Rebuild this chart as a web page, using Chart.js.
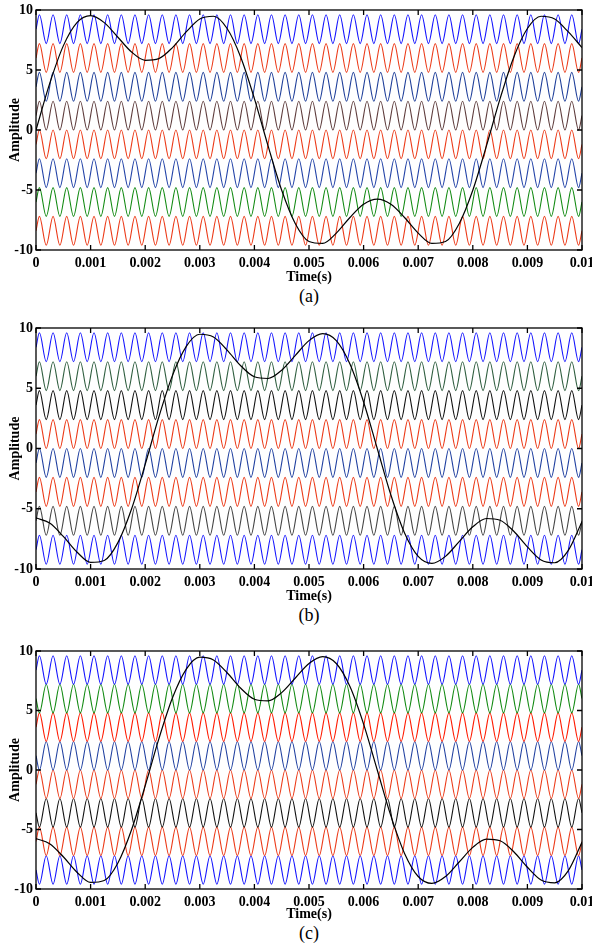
<!DOCTYPE html>
<html>
<head>
<meta charset="utf-8">
<title>Carrier based PWM</title>
<script src="https://cdn.jsdelivr.net/npm/chart.js@4.4.1/dist/chart.umd.min.js"></script>
<style>
body { margin: 0; background: #fff; width: 592px; height: 947px; position: relative; overflow: hidden; }
canvas { position: absolute; left: 0; }
.cap { position: absolute; left: 259px; width: 100px; text-align: center; font-family: "Liberation Serif", serif; font-size: 18px; line-height: 18px; color: #000; }
</style>
</head>
<body>
<canvas id="chartA" width="592" height="286" style="top:0px"></canvas>
<canvas id="chartB" width="592" height="287" style="top:318px"></canvas>
<canvas id="chartC" width="592" height="282" style="top:641px"></canvas>
<div class="cap" style="top:287px">(a)</div>
<div class="cap" style="top:606px">(b)</div>
<div class="cap" style="top:924px">(c)</div>
<script>
// turning points of the carriers (microseconds): 40 cycles in 10 ms
const carrierTurnsUs = [0, 62.5, 187.5, 312.5, 437.5, 562.5, 687.5, 812.5, 937.5, 1062.5,
    1187.5, 1312.5, 1437.5, 1562.5, 1687.5, 1812.5, 1937.5, 2062.5, 2187.5, 2312.5,
    2437.5, 2562.5, 2687.5, 2812.5, 2937.5, 3062.5, 3187.5, 3312.5, 3437.5, 3562.5,
    3687.5, 3812.5, 3937.5, 4062.5, 4187.5, 4312.5, 4437.5, 4562.5, 4687.5, 4812.5,
    4937.5, 5062.5, 5187.5, 5312.5, 5437.5, 5562.5, 5687.5, 5812.5, 5937.5, 6062.5,
    6187.5, 6312.5, 6437.5, 6562.5, 6687.5, 6812.5, 6937.5, 7062.5, 7187.5, 7312.5,
    7437.5, 7562.5, 7687.5, 7812.5, 7937.5, 8062.5, 8187.5, 8312.5, 8437.5, 8562.5,
    8687.5, 8812.5, 8937.5, 9062.5, 9187.5, 9312.5, 9437.5, 9562.5, 9687.5, 9812.5,
    9937.5, 10000];
// carrier band edges, top to bottom
const bandLevels = [9.6, 7.2, 4.8, 2.4, 0, -2.4, -4.8, -7.2, -9.6];

// modulating wave samples (ms)
const modTimesMs = [0, 0.25, 0.5, 0.75, 1, 1.25, 1.5, 1.75, 2, 2.25, 2.5, 2.75, 3, 3.25,
    3.5, 3.75, 4, 4.25, 4.5, 4.75, 5, 5.25, 5.5, 5.75, 6, 6.25, 6.5, 6.75, 7, 7.25,
    7.5, 7.75, 8, 8.25, 8.5, 8.75, 9, 9.25, 9.5, 9.75, 10];
const modA = [0, 3.86, 7.01, 8.95, 9.53, 8.95, 7.73, 6.5, 5.81, 5.95, 6.87, 8.17, 9.25, 9.48,
    8.46, 6.07, 2.62, -1.32, -5.02, -7.81, -9.29, -9.45, -8.59, -7.29, -6.19, -5.76, -6.19,
    -7.29, -8.59, -9.45, -9.29, -7.81, -5.02, -1.32, 2.62, 6.07, 8.46, 9.48, 9.25, 8.17, 6.87];
const modB = [-5.76, -6.19, -7.29, -8.59, -9.45, -9.29, -7.81, -5.02, -1.32, 2.62, 6.07, 8.46,
    9.48, 9.25, 8.17, 6.87, 5.95, 5.81, 6.5, 7.73, 8.95, 9.53, 8.95, 7.01, 3.86, 0, -3.86,
    -7.01, -8.95, -9.53, -8.95, -7.73, -6.5, -5.81, -5.95, -6.87, -8.17, -9.25, -9.48, -8.46, -6.07];

// carrier colours, top band first
const coloursA = ['#1414ff', '#ec3a18', '#1f3f9a', '#5e3c3c', '#ec3a18', '#2444a8', '#128a12', '#ec3a18'];
const coloursB = ['#1414ff', '#2f5e3f', '#111111', '#ec3a18', '#2040a0', '#ec3a18', '#454545', '#1414ff'];
const coloursC = ['#1414ff', '#128a12', '#ff1a00', '#2040a0', '#ec3a18', '#111111', '#ec3a18', '#1414ff'];
// +1 : carrier rises first, -1 : carrier falls first
const phaseA = [1, 1, 1, 1, 1, 1, 1, 1];
const phaseB = [1, 1, 1, 1, 1, 1, 1, 1];
const phaseC = [1, -1, 1, -1, 1, -1, 1, -1];

const xTicks = [0, 0.001, 0.002, 0.003, 0.004, 0.005, 0.006, 0.007, 0.008, 0.009, 0.01];

Chart.defaults.font.family = '"Liberation Serif", "Times New Roman", serif';
Chart.defaults.color = '#000';

function carrier(i, phase) {
    let hi = bandLevels[i], lo = bandLevels[i + 1], mid = (hi + lo) / 2;
    let last = carrierTurnsUs.length - 1;
    return carrierTurnsUs.map(function (us, j) {
        let y;
        if (j === 0 || j === last) y = mid;
        else y = ((j - 1) % 2 === 0) === (phase > 0) ? hi : lo;
        return { x: us / 1e6, y: y };
    });
}

// box round the plot with tick marks pointing inwards
const boxTicks = {
    id: 'boxTicks',
    afterDatasetsDraw(chart) {
        let ctx = chart.ctx, a = chart.chartArea;
        let sx = chart.scales.x, sy = chart.scales.y;
        ctx.save();
        ctx.strokeStyle = '#000';
        ctx.lineWidth = 1.3;
        ctx.strokeRect(a.left, a.top, a.right - a.left, a.bottom - a.top);
        ctx.beginPath();
        xTicks.forEach(function (v) {
            let px = sx.getPixelForValue(v);
            ctx.moveTo(px, a.bottom); ctx.lineTo(px, a.bottom - 5);
            ctx.moveTo(px, a.top); ctx.lineTo(px, a.top + 5);
        });
        sy.ticks.forEach(function (t) {
            let py = sy.getPixelForValue(t.value);
            ctx.moveTo(a.left, py); ctx.lineTo(a.left + 5, py);
            ctx.moveTo(a.right, py); ctx.lineTo(a.right - 5, py);
        });
        ctx.stroke();
        ctx.restore();
    }
};

function makePanel(id, mod, colours, phase, xHeight) {
    let datasets = [{
        label: 'modulating',
        data: modTimesMs.map((t, k) => ({ x: t / 1000, y: mod[k] })),
        borderColor: '#000',
        borderWidth: 1.2,
        pointRadius: 0,
        cubicInterpolationMode: 'monotone'
    }];
    colours.forEach(function (c, i) {
        datasets.push({
            label: 'carrier ' + (i + 1),
            data: carrier(i, phase[i]),
            borderColor: c,
            borderWidth: 1.1,
            pointRadius: 0,
            cubicInterpolationMode: 'monotone'
        });
    });
    return new Chart(document.getElementById(id), {
        type: 'line',
        data: { datasets: datasets },
        plugins: [boxTicks],
        options: {
            responsive: false,
            animation: false,
            layout: { padding: { top: 10, right: 10, left: 0, bottom: 0 } },
            plugins: { legend: { display: false }, tooltip: { enabled: false } },
            scales: {
                x: {
                    type: 'linear',
                    min: 0,
                    max: 0.01,
                    afterBuildTicks: function (scale) {
                        scale.ticks = xTicks.map(v => ({ value: v }));
                    },
                    afterFit: function (scale) {
                        scale.height = xHeight;
                        scale.paddingLeft = 0;
                        scale.paddingRight = 0;
                    },
                    grid: { display: false, drawTicks: false },
                    border: { display: false },
                    ticks: {
                        padding: 5,
                        maxRotation: 0,
                        autoSkip: false,
                        font: { size: 14, weight: 'bold' },
                        callback: v => Number(v.toFixed(3)).toString()
                    },
                    title: {
                        display: true,
                        text: 'Time(s)',
                        font: { size: 14, weight: 'bold' },
                        padding: { top: 0, bottom: 0 }
                    }
                },
                y: {
                    min: -10,
                    max: 10,
                    afterFit: function (scale) {
                        scale.width = 36;
                        scale.paddingTop = 0;
                        scale.paddingBottom = 0;
                    },
                    grid: { display: false, drawTicks: false },
                    border: { display: false },
                    ticks: { stepSize: 5, padding: 3, font: { size: 14, weight: 'bold' } },
                    title: {
                        display: true,
                        text: 'Amplitude',
                        font: { size: 14, weight: 'bold' },
                        padding: { top: 7, bottom: 0 }
                    }
                }
            }
        }
    });
}

makePanel('chartA', modA, coloursA, phaseA, 36);
makePanel('chartB', modB, coloursB, phaseB, 36);
makePanel('chartC', modB, coloursC, phaseC, 34);
</script>
</body>
</html>
